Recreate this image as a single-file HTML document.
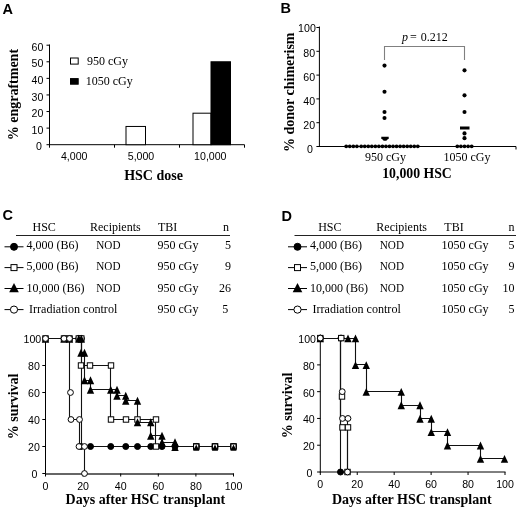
<!DOCTYPE html>
<html lang="en">
<head>
<meta charset="utf-8">
<title>HSC engraftment and survival figure</title>
<style>
html,body{margin:0;padding:0;background:#fff;}
body{width:520px;height:511px;overflow:hidden;}
svg{display:block;}
.sf{font-family:'Liberation Serif', serif;}
.ss{font-family:'Liberation Sans', sans-serif;}
</style>
</head>
<body>
<svg width="520" height="511" viewBox="0 0 520 511">
<rect x="0" y="0" width="520" height="511" fill="#fff"/>
<text class="ss" x="2.6" y="14.2" font-size="14.5" font-weight="bold">A</text>
<text class="ss" x="280.6" y="13.2" font-size="14.5" font-weight="bold">B</text>
<text class="ss" x="2.6" y="220.4" font-size="14.5" font-weight="bold">C</text>
<text class="ss" x="281.4" y="221.1" font-size="14.5" font-weight="bold">D</text>
<line x1="49.5" y1="44.5" x2="49.5" y2="145.2" stroke="#000" stroke-width="1"/>
<line x1="49.0" y1="144.7" x2="244.5" y2="144.7" stroke="#000" stroke-width="1"/>
<line x1="46.5" y1="144.7" x2="49.5" y2="144.7" stroke="#000" stroke-width="1"/>
<text class="ss" x="41.9" y="150.29999999999998" font-size="10.6" text-anchor="end">0</text>
<line x1="46.5" y1="128.11666666666665" x2="49.5" y2="128.11666666666665" stroke="#000" stroke-width="1"/>
<text class="ss" x="43.3" y="133.71666666666664" font-size="10.6" text-anchor="end">10</text>
<line x1="46.5" y1="111.53333333333332" x2="49.5" y2="111.53333333333332" stroke="#000" stroke-width="1"/>
<text class="ss" x="43.3" y="117.13333333333331" font-size="10.6" text-anchor="end">20</text>
<line x1="46.5" y1="94.94999999999999" x2="49.5" y2="94.94999999999999" stroke="#000" stroke-width="1"/>
<text class="ss" x="43.3" y="100.54999999999998" font-size="10.6" text-anchor="end">30</text>
<line x1="46.5" y1="78.36666666666665" x2="49.5" y2="78.36666666666665" stroke="#000" stroke-width="1"/>
<text class="ss" x="43.3" y="83.96666666666664" font-size="10.6" text-anchor="end">40</text>
<line x1="46.5" y1="61.78333333333332" x2="49.5" y2="61.78333333333332" stroke="#000" stroke-width="1"/>
<text class="ss" x="43.3" y="67.38333333333331" font-size="10.6" text-anchor="end">50</text>
<line x1="46.5" y1="45.19999999999999" x2="49.5" y2="45.19999999999999" stroke="#000" stroke-width="1"/>
<text class="ss" x="43.3" y="50.79999999999999" font-size="10.6" text-anchor="end">60</text>
<line x1="114.5" y1="144.7" x2="114.5" y2="147.7" stroke="#000" stroke-width="1"/>
<line x1="179.5" y1="144.7" x2="179.5" y2="147.7" stroke="#000" stroke-width="1"/>
<line x1="244.5" y1="144.7" x2="244.5" y2="147.7" stroke="#000" stroke-width="1"/>
<line x1="49.5" y1="144.7" x2="49.5" y2="147.7" stroke="#000" stroke-width="1"/>
<rect x="126" y="126.45833333333331" width="19.5" height="18.241666666666667" fill="#fff" stroke="#000" stroke-width="1"/>
<rect x="193" y="113.19166666666665" width="18" height="31.508333333333336" fill="#fff" stroke="#000" stroke-width="1"/>
<rect x="211" y="61.78333333333332" width="19.5" height="82.91666666666667" fill="#000" stroke="#000" stroke-width="1"/>
<text class="ss" x="74.2" y="160.2" font-size="10.6" text-anchor="middle">4,000</text>
<text class="ss" x="141" y="160.2" font-size="10.6" text-anchor="middle">5,000</text>
<text class="ss" x="210.3" y="160.2" font-size="10.6" text-anchor="middle">10,000</text>
<text class="sf" x="153.5" y="179.5" font-size="14" font-weight="bold" text-anchor="middle">HSC dose</text>
<text class="sf" x="17.8" y="140.3" font-size="14" font-weight="bold" transform="rotate(-90 17.8 140.3)">% engraftment</text>
<rect x="70.5" y="58" width="7.7" height="6.1" fill="#fff" stroke="#000" stroke-width="1"/>
<text class="sf" x="87" y="65" font-size="12">950 cGy</text>
<rect x="70.5" y="78.6" width="7.7" height="5.6" fill="#000" stroke="#000" stroke-width="1"/>
<text class="sf" x="85.7" y="85.3" font-size="12">1050 cGy</text>
<line x1="319.4" y1="26.5" x2="319.4" y2="147.0" stroke="#000" stroke-width="1"/>
<line x1="318.9" y1="146.5" x2="516" y2="146.5" stroke="#000" stroke-width="1"/>
<line x1="316.4" y1="146.5" x2="319.4" y2="146.5" stroke="#000" stroke-width="1"/>
<text class="ss" x="312.9" y="152.5" font-size="10.6" text-anchor="end">0</text>
<line x1="316.4" y1="122.7" x2="319.4" y2="122.7" stroke="#000" stroke-width="1"/>
<text class="ss" x="315.09999999999997" y="128.7" font-size="10.6" text-anchor="end">20</text>
<line x1="316.4" y1="98.9" x2="319.4" y2="98.9" stroke="#000" stroke-width="1"/>
<text class="ss" x="315.09999999999997" y="104.9" font-size="10.6" text-anchor="end">40</text>
<line x1="316.4" y1="75.10000000000001" x2="319.4" y2="75.10000000000001" stroke="#000" stroke-width="1"/>
<text class="ss" x="315.09999999999997" y="81.10000000000001" font-size="10.6" text-anchor="end">60</text>
<line x1="316.4" y1="51.30000000000001" x2="319.4" y2="51.30000000000001" stroke="#000" stroke-width="1"/>
<text class="ss" x="315.09999999999997" y="57.30000000000001" font-size="10.6" text-anchor="end">80</text>
<line x1="316.4" y1="27.5" x2="319.4" y2="27.5" stroke="#000" stroke-width="1"/>
<text class="ss" x="315.79999999999995" y="31.9" font-size="10.6" text-anchor="end">100</text>
<line x1="516" y1="146.5" x2="516" y2="149.5" stroke="#000" stroke-width="1"/>
<path d="M384.5 60V46.5H464.5V60" stroke="#808080" stroke-width="1.1" fill="none"/>
<text class="sf" x="402" y="41" font-size="12" font-style="italic">p</text>
<text class="sf" x="410" y="41" font-size="12">=</text>
<text class="sf" x="420.8" y="41" font-size="12">0.212</text>
<circle cx="384.50" cy="65.58" r="2.05" fill="#000"/>
<circle cx="384.50" cy="91.76" r="2.05" fill="#000"/>
<circle cx="384.50" cy="111.99" r="2.05" fill="#000"/>
<circle cx="384.50" cy="117.94" r="2.05" fill="#000"/>
<path d="M381.3 136.8H388.7V138.3L386.3 140.8H383.7L381.3 138.3Z" fill="#000"/>
<circle cx="346.20" cy="146.30" r="1.9" fill="#000"/>
<circle cx="349.77" cy="146.30" r="1.9" fill="#000"/>
<circle cx="353.33" cy="146.30" r="1.9" fill="#000"/>
<circle cx="356.90" cy="146.30" r="1.9" fill="#000"/>
<circle cx="361.20" cy="146.30" r="1.9" fill="#000"/>
<circle cx="364.74" cy="146.30" r="1.9" fill="#000"/>
<circle cx="368.27" cy="146.30" r="1.9" fill="#000"/>
<circle cx="371.81" cy="146.30" r="1.9" fill="#000"/>
<circle cx="375.35" cy="146.30" r="1.9" fill="#000"/>
<circle cx="378.89" cy="146.30" r="1.9" fill="#000"/>
<circle cx="382.43" cy="146.30" r="1.9" fill="#000"/>
<circle cx="385.96" cy="146.30" r="1.9" fill="#000"/>
<circle cx="389.50" cy="146.30" r="1.9" fill="#000"/>
<circle cx="393.04" cy="146.30" r="1.9" fill="#000"/>
<circle cx="396.57" cy="146.30" r="1.9" fill="#000"/>
<circle cx="400.11" cy="146.30" r="1.9" fill="#000"/>
<circle cx="403.65" cy="146.30" r="1.9" fill="#000"/>
<circle cx="407.19" cy="146.30" r="1.9" fill="#000"/>
<circle cx="410.73" cy="146.30" r="1.9" fill="#000"/>
<circle cx="414.26" cy="146.30" r="1.9" fill="#000"/>
<circle cx="417.80" cy="146.30" r="1.9" fill="#000"/>
<circle cx="464.50" cy="70.34" r="2.05" fill="#000"/>
<circle cx="464.50" cy="95.33" r="2.05" fill="#000"/>
<circle cx="464.50" cy="111.99" r="2.05" fill="#000"/>
<circle cx="464.50" cy="133.41" r="2.05" fill="#000"/>
<circle cx="464.50" cy="138.17" r="2.05" fill="#000"/>
<rect x="460" y="126.5" width="9.5" height="3" fill="#000"/>
<circle cx="457.30" cy="146.30" r="1.9" fill="#000"/>
<circle cx="460.90" cy="146.30" r="1.9" fill="#000"/>
<circle cx="464.50" cy="146.30" r="1.9" fill="#000"/>
<circle cx="468.10" cy="146.30" r="1.9" fill="#000"/>
<circle cx="471.70" cy="146.30" r="1.9" fill="#000"/>
<text class="sf" x="385.5" y="160.9" font-size="12" text-anchor="middle">950 cGy</text>
<text class="sf" x="467" y="160.9" font-size="12" text-anchor="middle">1050 cGy</text>
<text class="sf" x="382.2" y="178" font-size="14" font-weight="bold" textLength="69.6" lengthAdjust="spacingAndGlyphs">10,000 HSC</text>
<text class="sf" x="294.2" y="152" font-size="14" font-weight="bold" transform="rotate(-90 294.2 152)">% donor chimerism</text>
<text class="sf" x="32.5" y="230.5" font-size="12">HSC</text>
<text class="sf" x="90" y="230.5" font-size="12">Recipients</text>
<text class="sf" x="158" y="230.5" font-size="12">TBI</text>
<text class="sf" x="229" y="230.5" font-size="12" text-anchor="end">n</text>
<line x1="16" y1="235.5" x2="230" y2="235.5" stroke="#222" stroke-width="1.2"/>
<line x1="4.5" y1="246.8" x2="23.5" y2="246.8" stroke="#000" stroke-width="1"/>
<circle cx="14.00" cy="246.80" r="3.5" fill="#000" stroke="#000" stroke-width="1"/>
<text class="sf" x="26.5" y="249.2" font-size="12">4,000 (B6)</text>
<text class="sf" x="96.3" y="249.2" font-size="12" textLength="24.2" lengthAdjust="spacingAndGlyphs">NOD</text>
<text class="sf" x="157.5" y="249.2" font-size="12">950 cGy</text>
<text class="sf" x="231" y="249.2" font-size="12" text-anchor="end">5</text>
<line x1="4.5" y1="267.6" x2="23.5" y2="267.6" stroke="#000" stroke-width="1"/>
<rect x="11.00" y="264.60" width="6.0" height="6.0" fill="#fff" stroke="#000" stroke-width="1"/>
<text class="sf" x="26.5" y="270.0" font-size="12">5,000 (B6)</text>
<text class="sf" x="96.3" y="270.0" font-size="12" textLength="24.2" lengthAdjust="spacingAndGlyphs">NOD</text>
<text class="sf" x="157.5" y="270.0" font-size="12">950 cGy</text>
<text class="sf" x="231" y="270.0" font-size="12" text-anchor="end">9</text>
<line x1="4.5" y1="288.5" x2="23.5" y2="288.5" stroke="#000" stroke-width="1"/>
<path d="M9.20 292.30L18.80 292.30L14.00 282.90Z" fill="#000"/>
<text class="sf" x="26.5" y="291.6" font-size="12">10,000 (B6)</text>
<text class="sf" x="96.3" y="291.6" font-size="12" textLength="24.2" lengthAdjust="spacingAndGlyphs">NOD</text>
<text class="sf" x="157.5" y="291.6" font-size="12">950 cGy</text>
<text class="sf" x="231" y="291.6" font-size="12" text-anchor="end">26</text>
<line x1="4.5" y1="309.6" x2="23.5" y2="309.6" stroke="#000" stroke-width="1"/>
<circle cx="14.00" cy="309.60" r="3.6" fill="#fff" stroke="#000" stroke-width="1"/>
<text class="sf" x="29.0" y="312.9" font-size="12" textLength="88.3" lengthAdjust="spacingAndGlyphs">Irradiation control</text>
<text class="sf" x="157.5" y="312.9" font-size="12">950 cGy</text>
<text class="sf" x="228.2" y="312.9" font-size="12" text-anchor="end">5</text>
<text class="sf" x="318.2" y="230.5" font-size="12">HSC</text>
<text class="sf" x="376.3" y="230.5" font-size="12">Recipients</text>
<text class="sf" x="444.3" y="230.5" font-size="12">TBI</text>
<text class="sf" x="514.6" y="230.5" font-size="12" text-anchor="end">n</text>
<line x1="294.5" y1="235.5" x2="516" y2="235.5" stroke="#222" stroke-width="1.2"/>
<line x1="288.0" y1="246.8" x2="307.0" y2="246.8" stroke="#000" stroke-width="1"/>
<circle cx="297.50" cy="246.80" r="3.5" fill="#000" stroke="#000" stroke-width="1"/>
<text class="sf" x="310.0" y="249.2" font-size="12">4,000 (B6)</text>
<text class="sf" x="379.8" y="249.2" font-size="12" textLength="24.2" lengthAdjust="spacingAndGlyphs">NOD</text>
<text class="sf" x="441.6" y="249.2" font-size="12">1050 cGy</text>
<text class="sf" x="514.5" y="249.2" font-size="12" text-anchor="end">5</text>
<line x1="288.0" y1="267.6" x2="307.0" y2="267.6" stroke="#000" stroke-width="1"/>
<rect x="294.50" y="264.60" width="6.0" height="6.0" fill="#fff" stroke="#000" stroke-width="1"/>
<text class="sf" x="310.0" y="270.0" font-size="12">5,000 (B6)</text>
<text class="sf" x="379.8" y="270.0" font-size="12" textLength="24.2" lengthAdjust="spacingAndGlyphs">NOD</text>
<text class="sf" x="441.6" y="270.0" font-size="12">1050 cGy</text>
<text class="sf" x="514.5" y="270.0" font-size="12" text-anchor="end">9</text>
<line x1="288.0" y1="288.5" x2="307.0" y2="288.5" stroke="#000" stroke-width="1"/>
<path d="M292.70 292.30L302.30 292.30L297.50 282.90Z" fill="#000"/>
<text class="sf" x="310.0" y="291.6" font-size="12">10,000 (B6)</text>
<text class="sf" x="379.8" y="291.6" font-size="12" textLength="24.2" lengthAdjust="spacingAndGlyphs">NOD</text>
<text class="sf" x="441.6" y="291.6" font-size="12">1050 cGy</text>
<text class="sf" x="514.5" y="291.6" font-size="12" text-anchor="end">10</text>
<line x1="288.0" y1="309.6" x2="307.0" y2="309.6" stroke="#000" stroke-width="1"/>
<circle cx="297.50" cy="309.60" r="3.6" fill="#fff" stroke="#000" stroke-width="1"/>
<text class="sf" x="312.5" y="312.9" font-size="12" textLength="88.3" lengthAdjust="spacingAndGlyphs">Irradiation control</text>
<text class="sf" x="441.6" y="312.9" font-size="12">1050 cGy</text>
<text class="sf" x="514.5" y="312.9" font-size="12" text-anchor="end">5</text>
<line x1="45.5" y1="338.0" x2="45.5" y2="474.0" stroke="#000" stroke-width="1"/>
<line x1="45.0" y1="474" x2="234.0" y2="474" stroke="#333" stroke-width="1.6"/>
<line x1="42.3" y1="473.5" x2="45.5" y2="473.5" stroke="#000" stroke-width="1"/>
<text class="ss" x="37.5" y="478.4" font-size="10.6" text-anchor="end">0</text>
<line x1="45.5" y1="473.5" x2="45.5" y2="476.5" stroke="#000" stroke-width="1"/>
<text class="ss" x="45.5" y="489.8" font-size="10.6" text-anchor="middle">0</text>
<line x1="42.3" y1="446.5" x2="45.5" y2="446.5" stroke="#000" stroke-width="1"/>
<text class="ss" x="39.9" y="451.4" font-size="10.6" text-anchor="end">20</text>
<line x1="83.1" y1="473.5" x2="83.1" y2="476.5" stroke="#000" stroke-width="1"/>
<text class="ss" x="83.1" y="489.8" font-size="10.6" text-anchor="middle">20</text>
<line x1="42.3" y1="419.5" x2="45.5" y2="419.5" stroke="#000" stroke-width="1"/>
<text class="ss" x="39.9" y="424.4" font-size="10.6" text-anchor="end">40</text>
<line x1="120.69999999999999" y1="473.5" x2="120.69999999999999" y2="476.5" stroke="#000" stroke-width="1"/>
<text class="ss" x="120.69999999999999" y="489.8" font-size="10.6" text-anchor="middle">40</text>
<line x1="42.3" y1="392.5" x2="45.5" y2="392.5" stroke="#000" stroke-width="1"/>
<text class="ss" x="39.9" y="397.4" font-size="10.6" text-anchor="end">60</text>
<line x1="158.3" y1="473.5" x2="158.3" y2="476.5" stroke="#000" stroke-width="1"/>
<text class="ss" x="158.3" y="489.8" font-size="10.6" text-anchor="middle">60</text>
<line x1="42.3" y1="365.5" x2="45.5" y2="365.5" stroke="#000" stroke-width="1"/>
<text class="ss" x="39.9" y="370.4" font-size="10.6" text-anchor="end">80</text>
<line x1="195.89999999999998" y1="473.5" x2="195.89999999999998" y2="476.5" stroke="#000" stroke-width="1"/>
<text class="ss" x="195.89999999999998" y="489.8" font-size="10.6" text-anchor="middle">80</text>
<line x1="42.3" y1="338.5" x2="45.5" y2="338.5" stroke="#000" stroke-width="1"/>
<text class="ss" x="41.2" y="343.4" font-size="10.6" text-anchor="end">100</text>
<line x1="233.5" y1="473.5" x2="233.5" y2="476.5" stroke="#000" stroke-width="1"/>
<text class="ss" x="233.5" y="489.8" font-size="10.6" text-anchor="middle">100</text>
<text class="sf" x="65.6" y="503.6" font-size="14" font-weight="bold">Days after HSC transplant</text>
<text class="sf" x="17.9" y="439.3" font-size="14" font-weight="bold" transform="rotate(-90 17.9 439.3)">% survival</text>
<path d="M45.5 338.5L81.5 338.5L81.5 446.5L233.5 446.5" stroke="#111" stroke-width="1.1" fill="none"/>
<path d="M45.5 338.5L81.5 338.5L81.5 365.5L110.5 365.5L110.5 419.5L155.5 419.5L155.5 446.5L233.5 446.5" stroke="#111" stroke-width="1.1" fill="none"/>
<path d="M45.5 338.5L81.5 338.5L81.5 352.5L84.5 352.5L84.5 380.5L90.5 380.5L90.5 389.5L110.5 389.5L117.5 389.5L117.5 395.5L125.5 395.5L125.5 400.5L137.5 400.5L137.5 422.5L150.5 422.5L150.5 435.5L162.5 435.5L162.5 442.5L175.5 442.5L175.5 446.5L196.5 446.5L215.5 446.5L233.5 446.5" stroke="#111" stroke-width="1.1" fill="none"/>
<path d="M45.5 338.5L69.5 338.5L69.5 419.5L79.5 419.5L79.5 446.5L84.5 446.5L84.5 473.5" stroke="#111" stroke-width="1.1" fill="none"/>
<circle cx="45.50" cy="338.50" r="3.0" fill="#000" stroke="#000" stroke-width="1"/>
<circle cx="64.00" cy="338.50" r="3.0" fill="#000" stroke="#000" stroke-width="1"/>
<circle cx="69.50" cy="338.50" r="3.0" fill="#000" stroke="#000" stroke-width="1"/>
<circle cx="78.80" cy="338.50" r="3.0" fill="#000" stroke="#000" stroke-width="1"/>
<circle cx="81.30" cy="338.50" r="3.0" fill="#000" stroke="#000" stroke-width="1"/>
<circle cx="81.00" cy="446.50" r="3.0" fill="#000" stroke="#000" stroke-width="1"/>
<circle cx="90.50" cy="446.50" r="3.0" fill="#000" stroke="#000" stroke-width="1"/>
<circle cx="110.75" cy="446.50" r="3.0" fill="#000" stroke="#000" stroke-width="1"/>
<circle cx="125.75" cy="446.50" r="3.0" fill="#000" stroke="#000" stroke-width="1"/>
<circle cx="137.50" cy="446.50" r="3.0" fill="#000" stroke="#000" stroke-width="1"/>
<circle cx="150.75" cy="446.50" r="3.0" fill="#000" stroke="#000" stroke-width="1"/>
<circle cx="162.00" cy="446.50" r="3.0" fill="#000" stroke="#000" stroke-width="1"/>
<circle cx="175.00" cy="446.50" r="3.0" fill="#000" stroke="#000" stroke-width="1"/>
<circle cx="196.25" cy="446.50" r="3.0" fill="#000" stroke="#000" stroke-width="1"/>
<circle cx="215.00" cy="446.50" r="3.0" fill="#000" stroke="#000" stroke-width="1"/>
<circle cx="233.50" cy="446.50" r="3.0" fill="#000" stroke="#000" stroke-width="1"/>
<rect x="42.80" y="335.80" width="5.4" height="5.4" fill="#fff" stroke="#000" stroke-width="1"/>
<rect x="61.30" y="335.80" width="5.4" height="5.4" fill="#fff" stroke="#000" stroke-width="1"/>
<rect x="66.80" y="335.80" width="5.4" height="5.4" fill="#fff" stroke="#000" stroke-width="1"/>
<rect x="76.10" y="335.80" width="5.4" height="5.4" fill="#fff" stroke="#000" stroke-width="1"/>
<rect x="78.60" y="335.80" width="5.4" height="5.4" fill="#fff" stroke="#000" stroke-width="1"/>
<rect x="78.30" y="362.80" width="5.4" height="5.4" fill="#fff" stroke="#000" stroke-width="1"/>
<rect x="87.30" y="362.80" width="5.4" height="5.4" fill="#fff" stroke="#000" stroke-width="1"/>
<rect x="108.30" y="362.80" width="5.4" height="5.4" fill="#fff" stroke="#000" stroke-width="1"/>
<rect x="108.30" y="416.80" width="5.4" height="5.4" fill="#fff" stroke="#000" stroke-width="1"/>
<rect x="123.30" y="416.80" width="5.4" height="5.4" fill="#fff" stroke="#000" stroke-width="1"/>
<rect x="134.80" y="416.80" width="5.4" height="5.4" fill="#fff" stroke="#000" stroke-width="1"/>
<rect x="153.30" y="416.80" width="5.4" height="5.4" fill="#fff" stroke="#000" stroke-width="1"/>
<rect x="153.30" y="443.80" width="5.4" height="5.4" fill="#fff" stroke="#000" stroke-width="1"/>
<rect x="193.55" y="443.80" width="5.4" height="5.4" fill="#fff" stroke="#000" stroke-width="1"/>
<rect x="212.30" y="443.80" width="5.4" height="5.4" fill="#fff" stroke="#000" stroke-width="1"/>
<rect x="230.80" y="443.80" width="5.4" height="5.4" fill="#fff" stroke="#000" stroke-width="1"/>
<path d="M41.80 342.70L49.20 342.70L45.50 334.80Z" fill="#000"/>
<path d="M60.30 342.70L67.70 342.70L64.00 334.80Z" fill="#000"/>
<path d="M65.80 342.70L73.20 342.70L69.50 334.80Z" fill="#000"/>
<path d="M75.10 342.70L82.50 342.70L78.80 334.80Z" fill="#000"/>
<path d="M77.60 342.70L85.00 342.70L81.30 334.80Z" fill="#000"/>
<path d="M77.30 356.70L84.70 356.70L81.00 348.80Z" fill="#000"/>
<path d="M80.80 356.70L88.20 356.70L84.50 348.80Z" fill="#000"/>
<path d="M80.80 384.20L88.20 384.20L84.50 376.30Z" fill="#000"/>
<path d="M86.80 384.20L94.20 384.20L90.50 376.30Z" fill="#000"/>
<path d="M86.80 393.70L94.20 393.70L90.50 385.80Z" fill="#000"/>
<path d="M107.05 393.70L114.45 393.70L110.75 385.80Z" fill="#000"/>
<path d="M113.30 393.70L120.70 393.70L117.00 385.80Z" fill="#000"/>
<path d="M113.30 399.70L120.70 399.70L117.00 391.80Z" fill="#000"/>
<path d="M122.05 399.70L129.45 399.70L125.75 391.80Z" fill="#000"/>
<path d="M122.05 404.70L129.45 404.70L125.75 396.80Z" fill="#000"/>
<path d="M133.80 404.70L141.20 404.70L137.50 396.80Z" fill="#000"/>
<path d="M133.80 426.20L141.20 426.20L137.50 418.30Z" fill="#000"/>
<path d="M147.05 426.20L154.45 426.20L150.75 418.30Z" fill="#000"/>
<path d="M147.05 439.70L154.45 439.70L150.75 431.80Z" fill="#000"/>
<path d="M158.30 439.70L165.70 439.70L162.00 431.80Z" fill="#000"/>
<path d="M158.30 446.20L165.70 446.20L162.00 438.30Z" fill="#000"/>
<path d="M171.30 446.20L178.70 446.20L175.00 438.30Z" fill="#000"/>
<path d="M171.30 451.00L178.70 451.00L175.00 443.10Z" fill="#000"/>
<path d="M193.15 450.80L199.35 450.80L196.25 444.60Z" fill="#000"/>
<rect x="193.55" y="443.80" width="5.4" height="5.4" fill="none" stroke="#000" stroke-width="1"/>
<path d="M211.90 450.80L218.10 450.80L215.00 444.60Z" fill="#000"/>
<rect x="212.30" y="443.80" width="5.4" height="5.4" fill="none" stroke="#000" stroke-width="1"/>
<path d="M230.40 450.80L236.60 450.80L233.50 444.60Z" fill="#000"/>
<rect x="230.80" y="443.80" width="5.4" height="5.4" fill="none" stroke="#000" stroke-width="1"/>
<circle cx="45.50" cy="338.50" r="2.9" fill="#fff" stroke="#000" stroke-width="1"/>
<circle cx="64.00" cy="338.50" r="2.9" fill="#fff" stroke="#000" stroke-width="1"/>
<circle cx="69.50" cy="338.50" r="2.9" fill="#fff" stroke="#000" stroke-width="1"/>
<circle cx="70.50" cy="392.50" r="2.9" fill="#fff" stroke="#000" stroke-width="1"/>
<circle cx="71.00" cy="419.50" r="2.9" fill="#fff" stroke="#000" stroke-width="1"/>
<circle cx="79.50" cy="419.50" r="2.9" fill="#fff" stroke="#000" stroke-width="1"/>
<circle cx="79.00" cy="446.50" r="2.9" fill="#fff" stroke="#000" stroke-width="1"/>
<circle cx="84.50" cy="446.50" r="2.9" fill="#fff" stroke="#000" stroke-width="1"/>
<circle cx="84.50" cy="473.50" r="2.9" fill="#fff" stroke="#000" stroke-width="1"/>
<line x1="320.3" y1="337.6" x2="320.3" y2="472.5" stroke="#000" stroke-width="1"/>
<line x1="319.8" y1="472" x2="505.5" y2="472" stroke="#000" stroke-width="1"/>
<line x1="317.1" y1="472.0" x2="320.3" y2="472.0" stroke="#000" stroke-width="1"/>
<text class="ss" x="312.3" y="477.0" font-size="10.6" text-anchor="end">0</text>
<line x1="320.3" y1="472" x2="320.3" y2="475" stroke="#000" stroke-width="1"/>
<text class="ss" x="320.3" y="488.3" font-size="10.6" text-anchor="middle">0</text>
<line x1="317.1" y1="445.22" x2="320.3" y2="445.22" stroke="#000" stroke-width="1"/>
<text class="ss" x="314.7" y="450.22" font-size="10.6" text-anchor="end">20</text>
<line x1="357.24" y1="472" x2="357.24" y2="475" stroke="#000" stroke-width="1"/>
<text class="ss" x="357.24" y="488.3" font-size="10.6" text-anchor="middle">20</text>
<line x1="317.1" y1="418.44" x2="320.3" y2="418.44" stroke="#000" stroke-width="1"/>
<text class="ss" x="314.7" y="423.44" font-size="10.6" text-anchor="end">40</text>
<line x1="394.18" y1="472" x2="394.18" y2="475" stroke="#000" stroke-width="1"/>
<text class="ss" x="394.18" y="488.3" font-size="10.6" text-anchor="middle">40</text>
<line x1="317.1" y1="391.66" x2="320.3" y2="391.66" stroke="#000" stroke-width="1"/>
<text class="ss" x="314.7" y="396.66" font-size="10.6" text-anchor="end">60</text>
<line x1="431.12" y1="472" x2="431.12" y2="475" stroke="#000" stroke-width="1"/>
<text class="ss" x="431.12" y="488.3" font-size="10.6" text-anchor="middle">60</text>
<line x1="317.1" y1="364.88" x2="320.3" y2="364.88" stroke="#000" stroke-width="1"/>
<text class="ss" x="314.7" y="369.88" font-size="10.6" text-anchor="end">80</text>
<line x1="468.06" y1="472" x2="468.06" y2="475" stroke="#000" stroke-width="1"/>
<text class="ss" x="468.06" y="488.3" font-size="10.6" text-anchor="middle">80</text>
<line x1="317.1" y1="338.1" x2="320.3" y2="338.1" stroke="#000" stroke-width="1"/>
<text class="ss" x="316.0" y="343.1" font-size="10.6" text-anchor="end">100</text>
<line x1="505.0" y1="472" x2="505.0" y2="475" stroke="#000" stroke-width="1"/>
<text class="ss" x="505.0" y="488.3" font-size="10.6" text-anchor="middle">100</text>
<text class="sf" x="332" y="504.4" font-size="14" font-weight="bold">Days after HSC transplant</text>
<text class="sf" x="292.4" y="438.3" font-size="14" font-weight="bold" transform="rotate(-90 292.4 438.3)">% survival</text>
<path d="M320.5 338.5L340.5 338.5L340.5 472.5" stroke="#111" stroke-width="1.1" fill="none"/>
<path d="M320.5 338.5L340.5 338.5L340.5 427.5L347.5 427.5L347.5 472.5" stroke="#111" stroke-width="1.1" fill="none"/>
<path d="M320.5 338.5L355.5 338.5L355.5 364.5L366.5 364.5L366.5 391.5L401.5 391.5L401.5 405.5L420.5 405.5L420.5 418.5L431.5 418.5L431.5 431.5L447.5 431.5L447.5 445.5L480.5 445.5L480.5 458.5L504.5 458.5" stroke="#111" stroke-width="1.1" fill="none"/>
<path d="M320.5 338.5L340.5 338.5L340.5 418.5L347.5 418.5L347.5 472.5" stroke="#111" stroke-width="1.1" fill="none"/>
<circle cx="320.30" cy="338.10" r="3.0" fill="#000" stroke="#000" stroke-width="1"/>
<circle cx="341.00" cy="338.10" r="3.0" fill="#000" stroke="#000" stroke-width="1"/>
<circle cx="340.50" cy="472.00" r="3.0" fill="#000" stroke="#000" stroke-width="1"/>
<rect x="317.60" y="335.40" width="5.4" height="5.4" fill="#fff" stroke="#000" stroke-width="1"/>
<rect x="338.55" y="335.40" width="5.4" height="5.4" fill="#fff" stroke="#000" stroke-width="1"/>
<rect x="339.30" y="393.78" width="5.4" height="5.4" fill="#fff" stroke="#000" stroke-width="1"/>
<rect x="339.80" y="424.71" width="5.4" height="5.4" fill="#fff" stroke="#000" stroke-width="1"/>
<rect x="345.30" y="424.71" width="5.4" height="5.4" fill="#fff" stroke="#000" stroke-width="1"/>
<rect x="344.80" y="469.30" width="5.4" height="5.4" fill="#fff" stroke="#000" stroke-width="1"/>
<path d="M316.60 342.30L324.00 342.30L320.30 334.40Z" fill="#000"/>
<path d="M344.30 342.30L351.70 342.30L348.00 334.40Z" fill="#000"/>
<path d="M351.80 342.30L359.20 342.30L355.50 334.40Z" fill="#000"/>
<path d="M351.80 369.08L359.20 369.08L355.50 361.18Z" fill="#000"/>
<path d="M362.55 369.08L369.95 369.08L366.25 361.18Z" fill="#000"/>
<path d="M362.55 395.86L369.95 395.86L366.25 387.96Z" fill="#000"/>
<path d="M397.55 395.86L404.95 395.86L401.25 387.96Z" fill="#000"/>
<path d="M397.55 409.25L404.95 409.25L401.25 401.35Z" fill="#000"/>
<path d="M416.30 409.25L423.70 409.25L420.00 401.35Z" fill="#000"/>
<path d="M416.30 422.64L423.70 422.64L420.00 414.74Z" fill="#000"/>
<path d="M427.55 422.64L434.95 422.64L431.25 414.74Z" fill="#000"/>
<path d="M427.55 436.03L434.95 436.03L431.25 428.13Z" fill="#000"/>
<path d="M443.80 436.03L451.20 436.03L447.50 428.13Z" fill="#000"/>
<path d="M443.80 449.42L451.20 449.42L447.50 441.52Z" fill="#000"/>
<path d="M476.80 449.42L484.20 449.42L480.50 441.52Z" fill="#000"/>
<path d="M476.80 462.81L484.20 462.81L480.50 454.91Z" fill="#000"/>
<path d="M500.80 462.81L508.20 462.81L504.50 454.91Z" fill="#000"/>
<circle cx="320.30" cy="338.10" r="2.9" fill="#fff" stroke="#000" stroke-width="1"/>
<circle cx="342.25" cy="391.66" r="2.9" fill="#fff" stroke="#000" stroke-width="1"/>
<circle cx="342.50" cy="418.44" r="2.9" fill="#fff" stroke="#000" stroke-width="1"/>
<circle cx="348.00" cy="418.44" r="2.9" fill="#fff" stroke="#000" stroke-width="1"/>
<circle cx="347.50" cy="472.00" r="2.9" fill="#fff" stroke="#000" stroke-width="1"/>
</svg>
</body>
</html>
